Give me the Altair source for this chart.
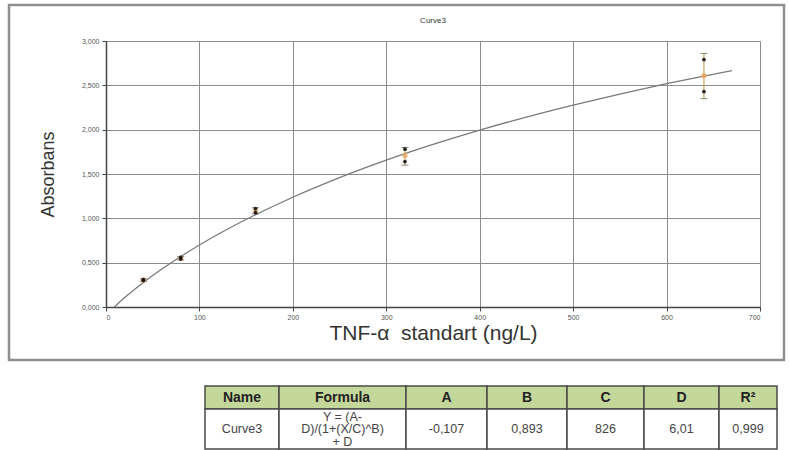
import altair as alt
import pandas as pd

# ---------------- data ----------------
std_conc = [40, 80, 160, 320, 640]              # ng/L
rep_a = [0.30, 0.54, 1.11, 1.78, 2.79]           # replicate 1 absorbance
rep_b = [0.31, 0.56, 1.065, 1.64, 2.43]          # replicate 2 absorbance
mean_abs = [0.305, 0.55, 1.088, 1.71, 2.61]
err_low = [0.29, 0.53, 1.05, 1.60, 2.35]
err_high = [0.32, 0.57, 1.12, 1.80, 2.86]

curve_x = [9, 20, 40, 80, 120, 160, 200, 250, 300, 350, 400, 450, 500, 550, 600, 640, 670]
curve_y = [0.0, 0.106, 0.277, 0.569, 0.820, 1.040, 1.238, 1.459, 1.656, 1.833, 1.995,
           2.142, 2.277, 2.402, 2.518, 2.605, 2.666]

x_ticks = [0, 100, 200, 300, 400, 500, 600, 700]
y_ticks = [0.0, 0.5, 1.0, 1.5, 2.0, 2.5, 3.0]

table_headers = ["Name", "Formula", "A", "B", "C", "D", "R²"]
table_values = ["Curve3", "Y = (A-\nD)/(1+(X/C)^B)\n+ D", "-0,107", "0,893", "826", "6,01", "0,999"]

chart_title = "Curve3"
x_title = "TNF-α\u00a0 standart (ng/L)"
y_title = "Absorbans"

# ---------------- layout (pixels) ----------------
W, H = 654, 266
table_left = 99
col_widths = [74, 127, 81, 80, 77, 75, 58]
header_h, row_h = 23, 40
table_top = 345
line_h = 12.5

font = "Liberation Sans"

# ---------------- frames ----------------
pts = pd.DataFrame({"conc": std_conc * 2, "abs": rep_a + rep_b})
means = pd.DataFrame({"conc": std_conc, "abs": mean_abs, "lo": err_low, "hi": err_high})
caps = pd.DataFrame({"conc": std_conc * 2, "abs": err_low + err_high})
curve = pd.DataFrame({"conc": curve_x, "abs": curve_y})

xscale = alt.Scale(domain=[0, 700], nice=False, zero=False)
yscale = alt.Scale(domain=[0, 3], nice=False, zero=False)

x_axis = alt.Axis(values=x_ticks, format="d", labelFontSize=7, labelColor="#555",
                  tickSize=4, tickColor="#444", domainColor="#444", domainWidth=1.5,
                  gridColor="#8c8c8c", gridWidth=1, labelPadding=2,
                  title=x_title, titleFontSize=21, titleFontWeight="normal",
                  titleFont=font, titleColor="#333", titleY=26, titleBaseline="middle")
y_axis = alt.Axis(values=y_ticks, labelExpr="replace(format(datum.value, '.3f'), '.', ',')",
                  labelFontSize=7, labelColor="#555", tickSize=4, tickColor="#444",
                  domainColor="#444", domainWidth=1.5, gridColor="#8c8c8c", gridWidth=1,
                  labelPadding=3, title=y_title, titleFontSize=18, titleFontWeight="normal",
                  titleFont=font, titleColor="#333", titleX=-58, titleY=133,
                  titleBaseline="middle", titleAlign="center")

line = alt.Chart(curve).mark_line(color="#7a7a7a", strokeWidth=1.3, interpolate="monotone").encode(
    x=alt.X("conc:Q", scale=xscale, axis=x_axis),
    y=alt.Y("abs:Q", scale=yscale, axis=y_axis),
)
err = alt.Chart(means).mark_rule(color="#c9a060", strokeWidth=1.2).encode(
    x="conc:Q", y="lo:Q", y2="hi:Q")
cap = alt.Chart(caps).mark_tick(orient="horizontal", size=7, thickness=1, color="#555").encode(
    x="conc:Q", y="abs:Q")
mean_pt = alt.Chart(means).mark_point(filled=True, size=28, color="#eba35a", opacity=0.75).encode(
    x="conc:Q", y="abs:Q")
rep_pt = alt.Chart(pts).mark_circle(size=14, color="#111", opacity=0.9).encode(
    x="conc:Q", y="abs:Q")

main = alt.layer(line, err, cap, mean_pt, rep_pt)

# ---------------- table ----------------
rows = []
left = table_left
for hdr, val, w in zip(table_headers, table_values, col_widths):
    rows.append({"x0": left, "x1": left + w, "y0": 0, "y1": header_h, "kind": "header", "text": hdr})
    rows.append({"x0": left, "x1": left + w, "y0": header_h, "y1": header_h + row_h, "kind": "data", "text": val})
    left += w
tbl = pd.DataFrame(rows)
tbl["xm"] = (tbl.x0 + tbl.x1) / 2
tbl["ym"] = (tbl.y0 + tbl.y1) / 2
tbl["multi"] = tbl.text.str.contains("\n")

txs = alt.Scale(domain=[0, W], range=[0, W], nice=False, zero=False)
tys = alt.Scale(domain=[0, header_h + row_h], range=[table_top, table_top + header_h + row_h],
                nice=False, zero=False)

cells = alt.Chart(tbl).mark_rect(stroke="#4a4a4a", strokeWidth=1.5).encode(
    x=alt.X("x0:Q", scale=txs, axis=None), x2="x1:Q",
    y=alt.Y("y0:Q", scale=tys, axis=None), y2="y1:Q",
    fill=alt.Fill("kind:N", scale=alt.Scale(domain=["header", "data"], range=["#c4d79b", "#ffffff"]),
                  legend=None),
)
head_txt = alt.Chart(tbl[tbl.kind == "header"]).mark_text(
    fontSize=14, fontWeight="bold", color="#222", baseline="middle", font=font).encode(
    x=alt.X("xm:Q", scale=txs, axis=None), y=alt.Y("ym:Q", scale=tys, axis=None), text="text:N")
data_txt = alt.Chart(tbl[(tbl.kind == "data") & (~tbl.multi)]).mark_text(
    fontSize=12.5, color="#444", baseline="middle", font=font).encode(
    x=alt.X("xm:Q", scale=txs, axis=None), y=alt.Y("ym:Q", scale=tys, axis=None), text="text:N")
formula_txt = alt.Chart(tbl[(tbl.kind == "data") & (tbl.multi)]).mark_text(
    fontSize=12.5, color="#444", baseline="middle", lineBreak="\n", lineHeight=line_h,
    dy=-line_h, font=font).encode(
    x=alt.X("xm:Q", scale=txs, axis=None), y=alt.Y("ym:Q", scale=tys, axis=None), text="text:N")
table = alt.layer(cells, head_txt, data_txt, formula_txt)

# ---------------- decorations ----------------
one = pd.DataFrame({"t": [chart_title]})
frame = alt.Chart(one).mark_rect(filled=False, stroke="#8f8f8f", strokeWidth=2.5).encode(
    x=alt.value(-97), x2=alt.value(678), y=alt.value(-36), y2=alt.value(319))
title = alt.Chart(one).mark_text(fontSize=8, color="#333", font=font).encode(
    x=alt.value(W / 2), y=alt.value(-20), text="t:N")

chart = alt.layer(main, table, frame, title).resolve_scale(
    x="independent", y="independent", fill="independent"
).properties(
    width=W, height=H, padding={"left": 7, "top": 3, "right": 0, "bottom": 0},
    background="white",
).configure_view(strokeWidth=0).configure(font=font)

chart.save("out.html", embed_options={"renderer": "svg", "actions": False})
